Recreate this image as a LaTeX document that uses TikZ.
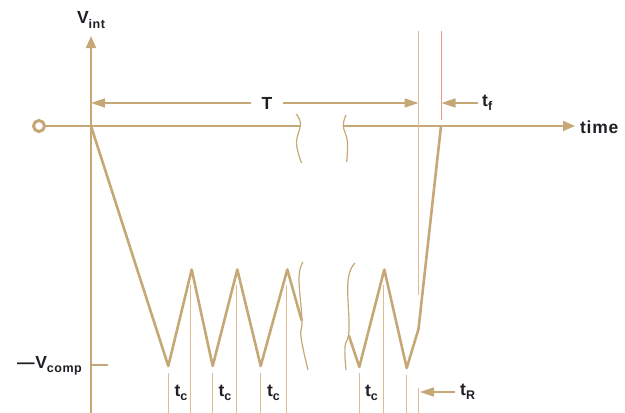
\documentclass[tikz,border=0pt]{standalone}
\usepackage{fontspec}
\setmainfont{Liberation Sans}[LetterSpace=4]
\usetikzlibrary{arrows.meta}
\definecolor{tanline}{RGB}{198,168,118}
\definecolor{thinline}{RGB}{226,186,146}
\definecolor{redline}{RGB}{234,150,136}
\definecolor{ink}{RGB}{35,30,38}
\newcommand{\lowsub}[1]{\raisebox{-0.45ex}{\fontsize{12.5}{12.5}\selectfont #1}}
\tikzset{
  axisline/.style={tanline, line width=1.8pt},
  waveline/.style={tanline, line width=2.6pt, line join=round, line cap=round},
  markline/.style={thinline, line width=1.1pt},
  breakline/.style={tanline, line width=1.2pt},
  dimline/.style={tanline, line width=1.6pt},
  bigtip/.style={-{Triangle[length=12pt,width=10pt]}},
  dimtip/.style={-{Triangle[length=14pt,width=9pt]}},
  lbl/.style={ink, font=\fontsize{17.5}{17.5}\selectfont\bfseries, inner sep=0pt}
}
\begin{document}
\begin{tikzpicture}[x=1pt,y=-1pt]
\useasboundingbox (0,0) rectangle (625,413);
% key coordinates
\coordinate (O) at (91,126);
\coordinate (ytop) at (91,36);
\coordinate (ybot) at (91,413);
\coordinate (b1) at (300.5,126);
\coordinate (b2) at (343.5,126);
\coordinate (xend) at (575,126);
\coordinate (Tend) at (418.5,103);
\coordinate (Tstart) at (91,103);
\coordinate (tfend) at (441.5,103);
\coordinate (tftail) at (478,103);
\coordinate (tRend) at (420,392);
\coordinate (tRtail) at (455,392);
\coordinate (vc) at (91,365);
\coordinate (vctick) at (108,365);
% waveform points
\coordinate (d1) at (168.3,366);
\coordinate (p1) at (191.7,269.5);
\coordinate (d2) at (212.7,366);
\coordinate (p2) at (237.3,269.5);
\coordinate (d3) at (260.7,366);
\coordinate (p3) at (287.3,269.5);
\coordinate (w1) at (301.5,320);
\coordinate (w2) at (349,336);
\coordinate (d4) at (359.3,367);
\coordinate (p4) at (384.3,269.5);
\coordinate (d5) at (406.7,368);
\coordinate (k) at (418.5,329);
\coordinate (f) at (441,126);

% axes
\draw[axisline, bigtip] (ybot) -- (ytop);
\node[circle, draw=tanline, line width=3pt, minimum size=11pt, inner sep=0pt] (c) at (39,126) {};
\draw[axisline] (c.east) -- (b1);
\draw[axisline, bigtip] (b2) -- (xend);
\draw[axisline] (vc) -- (vctick);

% break marks on axis
\draw[breakline] plot[smooth, tension=0.7] coordinates {(296,114) (300.5,124) (296.5,143) (301.5,163)};
\draw[breakline] plot[smooth, tension=0.7] coordinates {(346,115) (343.3,126) (347.3,141) (346.7,162)};
% break marks on waveform
\draw[breakline] plot[smooth, tension=0.7] coordinates {(303,262) (299,278) (302,320) (301,337) (308,370)};
\draw[breakline] plot[smooth, tension=0.7] coordinates {(355,263) (348,281) (349,330) (345,347) (346,370)};

% vertical reference lines
\draw[markline] (418.5,31) -- (418.5,295);
\draw[markline] (418.5,388) -- (418.5,413);
\draw[redline, line width=1.1pt] (441.5,31) -- (441.5,120);

% tc marker lines
\foreach \xa/\xb in {168.3/190.7, 212.7/236.2, 260.7/286.2, 359.3/383.3}{
  \draw[markline] (\xa,373) -- (\xa,413);
  \draw[markline] (\xb,285) -- (\xb,413);
}
\draw[markline] (406.7,375) -- (406.7,413);

% waveform
\draw[waveline] (O) -- (d1) -- (p1) -- (d2) -- (p2) -- (d3) -- (p3) -- (w1);
\draw[waveline] (w2) -- (d4) -- (p4) -- (d5) -- (k) -- (f);

% labels
\node[lbl] (vint) at (91,20) {V\lowsub{int}};
\node[lbl, anchor=west] (time) at (580,127) {time};
\node[lbl, anchor=east] (vcomp) at (82,366) {—V\lowsub{comp}};
\node[lbl, inner xsep=10pt] (T) at (267,103) {T};
\node[lbl, anchor=west] (tf) at (482,103) {t\lowsub{f}};
\node[lbl, anchor=west] (tR) at (460,392) {t\lowsub{R}};
\node[lbl] (tc1) at (181,393) {t\lowsub{c}};
\node[lbl] (tc2) at (225,393) {t\lowsub{c}};
\node[lbl] (tc3) at (273.5,393) {t\lowsub{c}};
\node[lbl] (tc4) at (371.5,393) {t\lowsub{c}};

% dimension arrows
\draw[dimline, dimtip] (T.west) -- (Tstart);
\draw[dimline, dimtip] (T.east) -- (Tend);
\draw[dimline, dimtip] (tftail) -- (tfend);
\draw[dimline, dimtip] (tRtail) -- (tRend);
\end{tikzpicture}
\end{document}
